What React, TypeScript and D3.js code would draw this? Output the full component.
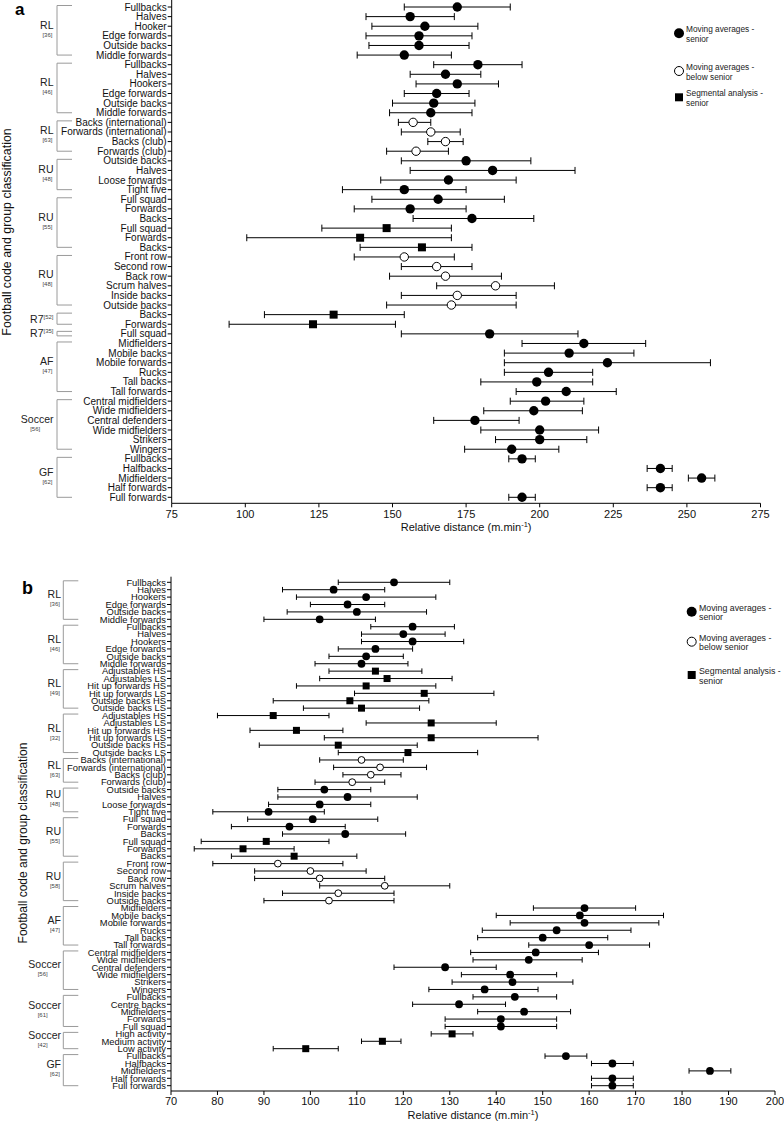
import * as d3 from "d3";

const FONT = "'Liberation Sans', Arial, Helvetica, sans-serif";

// ---------- panel a ----------
const aLabels = [
  "Fullbacks", "Halves", "Hooker", "Edge forwards", "Outside backs", "Middle forwards",
  "Fullbacks", "Halves", "Hookers", "Edge forwards", "Outside backs", "Middle forwards",
  "Backs (international)", "Forwards (international)", "Backs (club)", "Forwards (club)",
  "Outside backs", "Halves", "Loose forwards", "Tight five",
  "Full squad", "Forwards", "Backs", "Full squad", "Forwards", "Backs",
  "Front row", "Second row", "Back row", "Scrum halves", "Inside backs", "Outside backs",
  "Backs", "Forwards",
  "Full squad",
  "Midfielders", "Mobile backs", "Mobile forwards", "Rucks", "Tall backs", "Tall forwards",
  "Central midfielders", "Wide midfielders", "Central defenders", "Wide midfielders", "Strikers", "Wingers",
  "Fullbacks", "Halfbacks", "Midfielders", "Half forwards", "Full forwards",
];
const aMean = [
  172, 156, 161, 159, 159, 154,
  179, 168, 172, 165, 164, 163,
  157, 163, 168, 158,
  175, 184, 169, 154,
  165.5, 156, 177, 148, 139, 160,
  154, 165, 168, 185, 172, 170,
  130, 123,
  183,
  215, 210, 223, 203, 199, 209,
  202, 198, 178, 200, 200, 190.5,
  194, 241, 255, 241, 194,
];
const aLow = [
  154, 141, 143, 141, 142, 138,
  164, 156, 158, 154, 150, 149,
  152, 153, 162, 148,
  153, 156, 146, 133,
  143, 137, 157, 126, 100.5, 139,
  137, 153, 149, 165, 153, 148,
  106.5, 94.5,
  153,
  194, 188, 188, 188, 180, 192,
  190, 181, 164, 180, 185, 174.5,
  189.5, 236.5, 250.5, 236.5, 189.5,
];
const aHigh = [
  190, 171, 179, 177, 176, 170,
  194, 180, 186, 176, 178, 177,
  163, 173, 174, 169,
  197, 212, 192, 175,
  188, 175, 198, 170, 170, 177,
  171, 177, 187, 205, 192, 192,
  154, 151,
  213,
  236, 232, 258, 218, 218, 226,
  215, 214.5, 193, 220, 216, 206.5,
  198.5, 245, 259.5, 245, 198.5,
];
// F = moving averages senior, O = moving averages below senior, S = segmental analysis senior
const aKind = [
  "F", "F", "F", "F", "F", "F",
  "F", "F", "F", "F", "F", "F",
  "O", "O", "O", "O",
  "F", "F", "F", "F",
  "F", "F", "F", "S", "S", "S",
  "O", "O", "O", "O", "O", "O",
  "S", "S",
  "F",
  "F", "F", "F", "F", "F", "F",
  "F", "F", "F", "F", "F", "F",
  "F", "F", "F", "F", "F",
];
const aGroups = [
  { code: "RL", ref: "36", n: 6 },
  { code: "RL", ref: "46", n: 6 },
  { code: "RL", ref: "63", n: 4 },
  { code: "RU", ref: "48", n: 4 },
  { code: "RU", ref: "55", n: 6 },
  { code: "RU", ref: "48", n: 6 },
  { code: "R7", ref: "52", n: 2, sup: true },
  { code: "R7", ref: "35", n: 1, sup: true },
  { code: "AF", ref: "47", n: 6 },
  { code: "Soccer", ref: "56", n: 6 },
  { code: "GF", ref: "62", n: 5 },
];
const aTicks = [75, 100, 125, 150, 175, 200, 225, 250, 275];

// ---------- panel b ----------
const bLabels = [
  "Fullbacks", "Halves", "Hookers", "Edge forwards", "Outside backs", "Middle forwards",
  "Fullbacks", "Halves", "Hookers", "Edge forwards", "Outside backs", "Middle forwards",
  "Adjustables HS", "Adjustables LS", "Hit up forwards HS", "Hit up forwards LS", "Outside backs HS", "Outside backs LS",
  "Adjustables HS", "Adjustables LS", "Hit up forwards HS", "Hit up forwards LS", "Outside backs HS", "Outside backs LS",
  "Backs (international)", "Forwards (international)", "Backs (club)", "Forwards (club)",
  "Outside backs", "Halves", "Loose forwards", "Tight five",
  "Full squad", "Forwards", "Backs", "Full squad", "Forwards", "Backs",
  "Front row", "Second row", "Back row", "Scrum halves", "Inside backs", "Outside backs",
  "Midfielders", "Mobile backs", "Mobile forwards", "Rucks", "Tall backs", "Tall forwards",
  "Central midfielders", "Wide midfielders", "Central defenders", "Wide midfielders", "Strikers", "Wingers",
  "Fullbacks", "Centre backs", "Midfielders", "Forwards", "Full squad",
  "High activity", "Medium activity", "Low activity",
  "Fullbacks", "Halfbacks", "Midfielders", "Half forwards", "Full forwards",
];
const bMean = [
  118, 105, 112, 108, 110, 102,
  122, 120, 122, 114, 112, 111,
  114, 116.5, 112, 124.5, 108.5, 111,
  92, 126, 97, 126, 106, 121,
  111, 115, 113, 109,
  103, 108, 102, 91,
  100.5, 95.5, 107.5, 90.5, 85.5, 96.5,
  93, 100, 102, 116, 106, 104,
  159, 158, 159, 153, 150, 160,
  148.5, 147, 129, 143, 143.5, 137.5,
  144, 132, 146, 141, 141,
  130.5, 115.5, 99,
  155, 165, 186, 165, 165,
];
const bLow = [
  106, 94, 97, 100, 95, 90,
  113, 111, 111, 106, 104, 101,
  104, 102, 97, 109.5, 92, 98.5,
  80, 112, 87, 103, 89, 106,
  102, 105, 107, 101,
  93, 93, 91, 79,
  86.5, 83, 94, 76.5, 75, 83,
  79, 88, 88, 102, 94, 90,
  148, 140, 143, 137, 136, 147,
  134.5, 135, 118, 132.5, 130.5, 125.5,
  135, 122, 136, 129, 129,
  126, 111, 92,
  150.5, 160.5, 181.5, 160.5, 160.5,
];
const bHigh = [
  130, 116, 127, 116, 125, 114,
  131, 129, 133, 122, 120, 121,
  124, 130.5, 127, 139.5, 125.5, 123.5,
  104, 140, 107, 149, 123, 136,
  120, 125, 119.5, 116,
  113, 123, 113, 103,
  114.5, 107.5, 120.5, 104, 96.5, 110,
  107, 112, 116, 130, 118, 118,
  170, 176, 175, 169, 164, 173,
  162, 158.5, 140, 153, 156.5, 149,
  153, 142, 156, 153, 153,
  135, 119.5, 106,
  159.5, 169.5, 190.5, 169.5, 169.5,
];
const bKind = [
  "F", "F", "F", "F", "F", "F",
  "F", "F", "F", "F", "F", "F",
  "S", "S", "S", "S", "S", "S",
  "S", "S", "S", "S", "S", "S",
  "O", "O", "O", "O",
  "F", "F", "F", "F",
  "F", "F", "F", "S", "S", "S",
  "O", "O", "O", "O", "O", "O",
  "F", "F", "F", "F", "F", "F",
  "F", "F", "F", "F", "F", "F",
  "F", "F", "F", "F", "F",
  "S", "S", "S",
  "F", "F", "F", "F", "F",
];
const bGroups = [
  { code: "RL", ref: "36", n: 6 },
  { code: "RL", ref: "46", n: 6 },
  { code: "RL", ref: "49", n: 6 },
  { code: "RL", ref: "32", n: 6 },
  { code: "RL", ref: "63", n: 4 },
  { code: "RU", ref: "48", n: 4 },
  { code: "RU", ref: "55", n: 6 },
  { code: "RU", ref: "58", n: 6 },
  { code: "AF", ref: "47", n: 6 },
  { code: "Soccer", ref: "56", n: 6 },
  { code: "Soccer", ref: "61", n: 5 },
  { code: "Soccer", ref: "42", n: 3 },
  { code: "GF", ref: "62", n: 5 },
];
const bTicks = [70, 80, 90, 100, 110, 120, 130, 140, 150, 160, 170, 180, 190, 200];

const legendItems = [
  { kind: "F", lines: ["Moving averages -", "senior"] },
  { kind: "O", lines: ["Moving averages -", "below senior"] },
  { kind: "S", lines: ["Segmental analysis -", "senior"] },
];

type Group = { code: string; ref: string; n: number; sup?: boolean };

type PanelProps = {
  letter: string;
  letterPos: [number, number, number];
  labels: string[];
  mean: number[];
  low: number[];
  high: number[];
  kind: string[];
  groups: Group[];
  ticks: number[];
  xDomain: [number, number];
  xRange: [number, number];
  yRange: [number, number];
  axisY: number;
  axisTop: number;
  bracket: [number, number];
  groupX: number;
  rowFont: number;
  r: number;
  sq: number;
  cap: number;
  tickBase: number;
  titleBase: number;
  yTitle: [number, number, number];
  legend: { x: number; ys: number[]; textX: number; font: number };
};

function Marker({ kind, cx, cy, r, sq }: { kind: string; cx: number; cy: number; r: number; sq: number }) {
  if (kind === "S")
    return <rect x={cx - sq / 2} y={cy - sq / 2} width={sq} height={sq} fill="#000" />;
  if (kind === "O")
    return <circle cx={cx} cy={cy} r={r - 0.5} fill="#fff" stroke="#000" strokeWidth={1} />;
  return <circle cx={cx} cy={cy} r={r} fill="#000" />;
}

function Panel(p: PanelProps) {
  const x = d3.scaleLinear().domain(p.xDomain).range(p.xRange);
  const y = d3.scalePoint<number>().domain(d3.range(p.labels.length)).range(p.yRange);
  const x0 = p.xRange[0];

  let start = 0;
  const groups = p.groups.map((g) => {
    const s = start;
    start += g.n;
    return { ...g, top: y(s)!, bottom: y(s + g.n - 1)! };
  });

  return (
    <g>
      <text x={p.letterPos[0]} y={p.letterPos[1]} fontSize={p.letterPos[2]} fontWeight="bold">
        {p.letter}
      </text>

      {/* y axis title */}
      <text
        transform={`translate(${p.yTitle[0]},${p.yTitle[1]}) rotate(-90)`}
        textAnchor="middle"
        fontSize={p.yTitle[2]}
        fill="#111"
      >
        Football code and group classification
      </text>

      {/* group brackets and labels */}
      {groups.map((g, i) => {
        const single = g.n === 1;
        const top = single ? g.top - 2.5 : g.top - 1.5;
        const bot = single ? g.bottom + 2 : g.bottom;
        const mid = (g.top + g.bottom) / 2;
        const [bx0, bx1] = p.bracket;
        return (
          <g key={i}>
            <path
              d={`M${bx1},${top}H${bx0}V${bot}H${bx1}`}
              fill="none"
              stroke="#9a9a9a"
              strokeWidth={1}
            />
            {g.sup ? (
              <text x={p.groupX} y={mid + 3.5} textAnchor="end" fontSize={10.5} fill="#222">
                {g.code}
                <tspan fontSize={6} dy={-4} fill="#444">{`[${g.ref}]`}</tspan>
              </text>
            ) : (
              <g>
                <text x={p.groupX} y={mid - 2.5} textAnchor="end" fontSize={10.5} fill="#222">
                  {g.code}
                </text>
                <text
                  x={p.groupX - g.code.length * 3.05}
                  y={mid + 5.5}
                  textAnchor="middle"
                  fontSize={6}
                  fill="#444"
                >
                  {`[${g.ref}]`}
                </text>
              </g>
            )}
          </g>
        );
      })}

      {/* y axis */}
      <line x1={x0} x2={x0} y1={p.axisTop} y2={p.axisY} stroke="#000" />
      {p.labels.map((l, i) => (
        <g key={i}>
          <line x1={x0 - 4} x2={x0} y1={y(i)} y2={y(i)} stroke="#000" />
          <text x={x0 - 5} y={y(i)} dy="0.35em" textAnchor="end" fontSize={p.rowFont} fill="#111">
            {l}
          </text>
        </g>
      ))}

      {/* x axis */}
      <line x1={p.xRange[0]} x2={p.xRange[1]} y1={p.axisY} y2={p.axisY} stroke="#000" />
      {p.ticks.map((t) => (
        <g key={t}>
          <line x1={x(t)} x2={x(t)} y1={p.axisY} y2={p.axisY + 4} stroke="#000" />
          <text x={x(t)} y={p.tickBase} textAnchor="middle" fontSize={11} fill="#111">
            {t}
          </text>
        </g>
      ))}
      <text x={(p.xRange[0] + p.xRange[1]) / 2} y={p.titleBase} textAnchor="middle" fontSize={11} fill="#111">
        Relative distance (m.min
        <tspan fontSize={7.5} dy={-4}>-1</tspan>
        <tspan dy={4}>)</tspan>
      </text>

      {/* error bars */}
      {p.labels.map((_, i) => {
        const yy = y(i)!;
        const h = p.cap / 2;
        return (
          <g key={i} stroke="#000" strokeWidth={1}>
            <line x1={x(p.low[i])} x2={x(p.high[i])} y1={yy} y2={yy} />
            <line x1={x(p.low[i])} x2={x(p.low[i])} y1={yy - h} y2={yy + h} />
            <line x1={x(p.high[i])} x2={x(p.high[i])} y1={yy - h} y2={yy + h} />
          </g>
        );
      })}
      {p.labels.map((_, i) => (
        <Marker key={i} kind={p.kind[i]} cx={x(p.mean[i])} cy={y(i)!} r={p.r} sq={p.sq} />
      ))}

      {/* legend */}
      {legendItems.map((it, i) => {
        const cy = p.legend.ys[i];
        return (
          <g key={i}>
            <Marker kind={it.kind} cx={p.legend.x} cy={cy} r={5} sq={8} />
            <text x={p.legend.textX} y={cy - 1} fontSize={p.legend.font} fill="#222">
              {it.lines[0]}
            </text>
            <text x={p.legend.textX} y={cy + 8.5} fontSize={p.legend.font} fill="#222">
              {it.lines[1]}
            </text>
          </g>
        );
      })}
    </g>
  );
}

export default function App() {
  return (
    <svg
      width={784}
      height={1123}
      viewBox="0 0 784 1123"
      style={{ position: "absolute", left: 0, top: 0, background: "#fff" }}
      fontFamily={FONT}
    >
      <rect width={784} height={1123} fill="#fff" />
      <Panel
        letter="a"
        letterPos={[15, 15, 17]}
        labels={aLabels}
        mean={aMean}
        low={aLow}
        high={aHigh}
        kind={aKind}
        groups={aGroups}
        ticks={aTicks}
        xDomain={[75, 275]}
        xRange={[171.7, 760.5]}
        yRange={[7, 497.3]}
        axisY={503.3}
        axisTop={0}
        bracket={[57, 72]}
        groupX={53.5}
        rowFont={10}
        r={4.7}
        sq={8}
        cap={7}
        tickBase={518}
        titleBase={531}
        yTitle={[10.5, 232, 12.4]}
        legend={{ x: 679, ys: [33.3, 71, 97.3], textX: 686, font: 8.3 }}
      />
      <Panel
        letter="b"
        letterPos={[22, 594, 18]}
        labels={bLabels}
        mean={bMean}
        low={bLow}
        high={bHigh}
        kind={bKind}
        groups={bGroups}
        ticks={bTicks}
        xDomain={[70, 200]}
        xRange={[171, 775]}
        yRange={[582.3, 1085.7]}
        axisY={1091}
        axisTop={576.7}
        bracket={[63.3, 78.3]}
        groupX={61}
        rowFont={9.4}
        r={3.9}
        sq={7}
        cap={5.5}
        tickBase={1105}
        titleBase={1119}
        yTitle={[27, 843, 12]}
        legend={{ x: 691.7, ys: [611.7, 641.7, 675], textX: 699, font: 8.8 }}
      />
    </svg>
  );
}
